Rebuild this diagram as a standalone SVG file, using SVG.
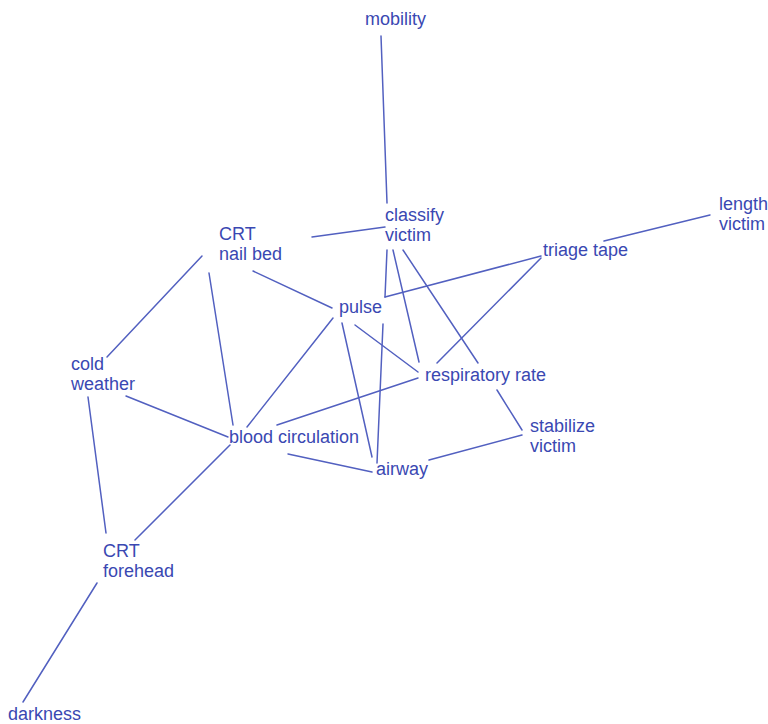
<svg xmlns="http://www.w3.org/2000/svg" width="768" height="724" viewBox="0 0 768 724">
<style>
.bg{fill:#ffffff}
.e line{stroke:#5260c0;stroke-width:1.5;stroke-linecap:round}
text{font-family:"Liberation Sans",Arial,sans-serif;font-size:18px;fill:#3a48b2}
</style>
<rect class="bg" x="0" y="0" width="768" height="724"/>
<g id="connectors" class="e">
<line x1="381" y1="36" x2="387" y2="203"/>
<line x1="312" y1="237" x2="385" y2="227"/>
<line x1="387" y1="250" x2="385" y2="297"/>
<line x1="383" y1="324" x2="377" y2="463"/>
<line x1="393" y1="250" x2="419" y2="362"/>
<line x1="403" y1="250" x2="478" y2="363"/>
<line x1="497" y1="390" x2="522" y2="430"/>
<line x1="541" y1="256" x2="385" y2="297"/>
<line x1="541" y1="258" x2="437" y2="363"/>
<line x1="604" y1="241" x2="710" y2="215"/>
<line x1="253" y1="271" x2="332" y2="308"/>
<line x1="209" y1="273" x2="233" y2="425"/>
<line x1="202" y1="256" x2="107" y2="357"/>
<line x1="126" y1="396" x2="228" y2="437"/>
<line x1="88" y1="397" x2="106" y2="533"/>
<line x1="230" y1="445" x2="135" y2="540"/>
<line x1="333" y1="318" x2="247" y2="427"/>
<line x1="277" y1="425" x2="418" y2="378"/>
<line x1="288" y1="454" x2="372" y2="472"/>
<line x1="342" y1="323" x2="372" y2="457"/>
<line x1="355" y1="325" x2="418" y2="372"/>
<line x1="429" y1="460" x2="522" y2="435"/>
<line x1="97" y1="583" x2="23" y2="702"/>
</g>
<g id="mobility"><text x="365" y="25">mobility</text></g>
<g id="classify-victim"><text x="385" y="221">classify</text><text x="385" y="241">victim</text></g>
<g id="crt-nail-bed"><text x="219" y="240">CRT</text><text x="219" y="260">nail bed</text></g>
<g id="length-victim"><text x="719" y="210">length</text><text x="719" y="230">victim</text></g>
<g id="triage-tape"><text x="543" y="256">triage tape</text></g>
<g id="pulse"><text x="339" y="313">pulse</text></g>
<g id="cold-weather"><text x="71" y="370">cold</text><text x="71" y="390">weather</text></g>
<g id="respiratory-rate"><text x="425" y="381">respiratory rate</text></g>
<g id="blood-circulation"><text x="229" y="443">blood circulation</text></g>
<g id="stabilize-victim"><text x="530" y="432">stabilize</text><text x="530" y="452">victim</text></g>
<g id="airway"><text x="376" y="475">airway</text></g>
<g id="crt-forehead"><text x="103" y="557">CRT</text><text x="103" y="577">forehead</text></g>
<g id="darkness"><text x="8" y="720">darkness</text></g>
</svg>
